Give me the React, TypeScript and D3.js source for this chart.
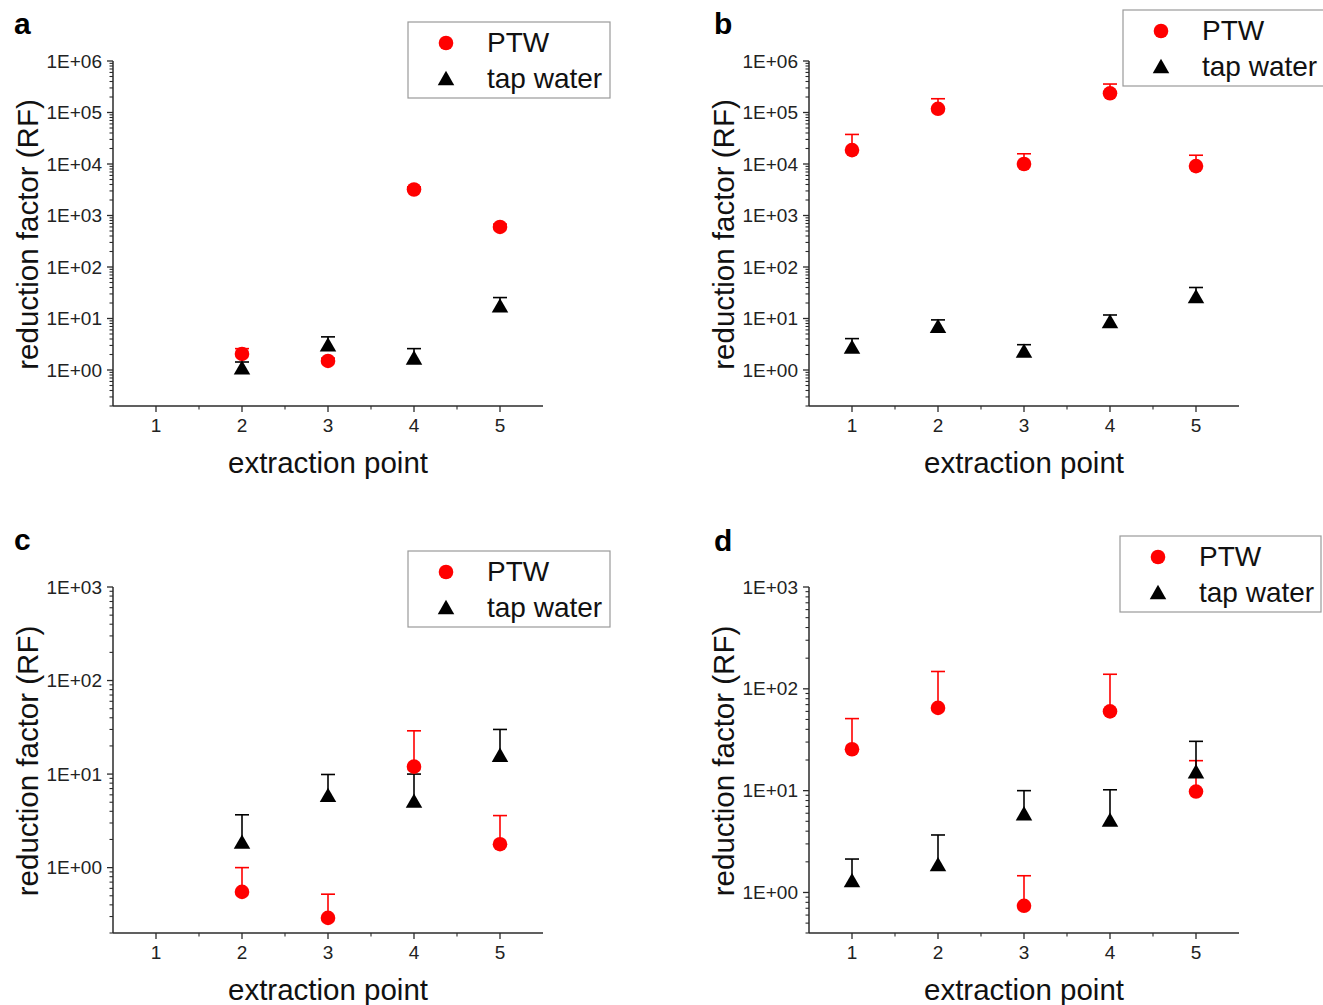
import React from "react";
import * as d3 from "d3";

// extraction points on the x axis
const extractionPoints = [1, 2, 3, 4, 5];
const xMinorTicks = [1.5, 2.5, 3.5, 4.5];
const seriesNames = ["PTW", "tap water"];

// y tick values (decades)
const yTicksWide = [1, 1e1, 1e2, 1e3, 1e4, 1e5, 1e6];
const yTicksNarrow = [1, 1e1, 1e2, 1e3];

// panel a (mean and upper error bar end)
const aPTW = [null, 2.05, 1.5, 3200, 600];
const aPTWUpper = [null, 2.6, 1.7, 3600, 680];
const aTap = [null, 1.12, 3.15, 1.75, 18];
const aTapUpper = [null, 1.43, 4.4, 2.6, 25.5];

// panel b
const bPTW = [18600, 118000, 10000, 236000, 9100];
const bPTWUpper = [37500, 185000, 15800, 357000, 14800];
const bTap = [2.85, 7.2, 2.38, 8.9, 27.3];
const bTapUpper = [4.07, 9.4, 3.1, 11.7, 40];

// panel c
const cPTW = [null, 0.55, 0.29, 12, 1.78];
const cPTWUpper = [null, 1.0, 0.52, 29, 3.6];
const cTap = [null, 1.9, 6.0, 5.2, 16.1];
const cTapUpper = [null, 3.67, 9.9, 10, 30];

// panel d
const dPTW = [25.5, 65, 0.74, 60, 9.8];
const dPTWUpper = [51, 148, 1.46, 139, 19.7];
const dTap = [1.32, 1.9, 6.0, 5.2, 15.5];
const dTapUpper = [2.13, 3.67, 10, 10.2, 30.5];

const FONT = "'Liberation Sans', Arial, Helvetica, sans-serif";
const RED = "#ff0000";
const BLACK = "#000000";
const AXIS = "#2b2b2b";

const panels = [
  {
    letter: "a", left: 113, right: 543, top: 61, bottom: 406, yDomain: [0.2, 1e6], yTicks: yTicksWide,
    ptw: aPTW, ptwUp: aPTWUpper, tap: aTap, tapUp: aTapUpper,
    legend: { x: 408, y: 22, w: 202, h: 76 }, letterPos: [14, 34],
  },
  {
    letter: "b", left: 809, right: 1239, top: 61, bottom: 406, yDomain: [0.2, 1e6], yTicks: yTicksWide,
    ptw: bPTW, ptwUp: bPTWUpper, tap: bTap, tapUp: bTapUpper,
    legend: { x: 1123, y: 10, w: 210, h: 76 }, letterPos: [714, 34],
  },
  {
    letter: "c", left: 113, right: 543, top: 587, bottom: 933, yDomain: [0.2, 1e3], yTicks: yTicksNarrow,
    ptw: cPTW, ptwUp: cPTWUpper, tap: cTap, tapUp: cTapUpper,
    legend: { x: 408, y: 551, w: 202, h: 76 }, letterPos: [14, 550],
  },
  {
    letter: "d", left: 809, right: 1239, top: 587, bottom: 933, yDomain: [0.4, 1e3], yTicks: yTicksNarrow,
    ptw: dPTW, ptwUp: dPTWUpper, tap: dTap, tapUp: dTapUpper,
    legend: { x: 1120, y: 536, w: 201, h: 76 }, letterPos: [714, 551],
  },
];

const triSize = 118; // area -> side ~16.5px
const triOffset = Math.sqrt(triSize / (Math.sqrt(3) * 3)) / 2;
const trianglePath = d3.symbol(d3.symbolTriangle, triSize)();
const fmtExp = (v) => {
  const e = Math.round(Math.log10(v));
  return `1E+${String(e).padStart(2, "0")}`;
};

function Panel({ p }) {
  const x = d3.scaleLinear().domain([0.5, 5.5]).range([p.left, p.right]);
  const y = d3.scaleLog().domain(p.yDomain).range([p.bottom, p.top]);
  const minor = y.ticks().filter((t) => !p.yTicks.some((d) => Math.abs(d - t) / d < 1e-6));

  const errBars = (vals, ups, color) =>
    extractionPoints.map((pt, i) =>
      vals[i] == null ? null : (
        <g key={`e${color}${i}`} stroke={color} strokeWidth={1.6}>
          <line x1={x(pt)} x2={x(pt)} y1={y(vals[i])} y2={y(ups[i])} />
          <line x1={x(pt) - 7} x2={x(pt) + 7} y1={y(ups[i])} y2={y(ups[i])} />
        </g>
      )
    );

  const midX = (p.left + p.right) / 2;
  const midY = (p.top + p.bottom) / 2 + 1;
  const lg = p.legend;

  return (
    <g>
      <text x={p.letterPos[0]} y={p.letterPos[1]} fontSize={30} fontWeight="bold" fontFamily={FONT}>
        {p.letter}
      </text>

      {/* axes */}
      <line x1={p.left} x2={p.left} y1={p.top} y2={p.bottom} stroke={AXIS} strokeWidth={1.5} />
      <line x1={p.left} x2={p.right} y1={p.bottom} y2={p.bottom} stroke={AXIS} strokeWidth={1.5} />

      {p.yTicks.map((t) => (
        <g key={`yt${t}`}>
          <line x1={p.left - 6} x2={p.left} y1={y(t)} y2={y(t)} stroke={AXIS} strokeWidth={1.3} />
          <text x={p.left - 11} y={y(t)} dy="0.35em" textAnchor="end" fontSize={19} fontFamily={FONT} fill="#222">
            {fmtExp(t)}
          </text>
        </g>
      ))}
      {minor.map((t) => (
        <line key={`ym${t}`} x1={p.left - 3.5} x2={p.left} y1={y(t)} y2={y(t)} stroke={AXIS} strokeWidth={1.1} />
      ))}

      {extractionPoints.map((t) => (
        <g key={`xt${t}`}>
          <line x1={x(t)} x2={x(t)} y1={p.bottom} y2={p.bottom + 6} stroke={AXIS} strokeWidth={1.3} />
          <text x={x(t)} y={p.bottom + 26} textAnchor="middle" fontSize={19} fontFamily={FONT} fill="#222">
            {t}
          </text>
        </g>
      ))}
      {xMinorTicks.map((t) => (
        <line key={`xm${t}`} x1={x(t)} x2={x(t)} y1={p.bottom} y2={p.bottom + 3.5} stroke={AXIS} strokeWidth={1.1} />
      ))}

      <text x={midX} y={p.bottom + 67} textAnchor="middle" fontSize={29.5} fontFamily={FONT} fill="#111">
        extraction point
      </text>
      <text
        transform={`translate(${p.left - 75},${midY}) rotate(-90)`}
        textAnchor="middle"
        fontSize={29.5}
        fontFamily={FONT}
        fill="#111"
      >
        reduction factor (RF)
      </text>

      {/* error bars */}
      {errBars(p.ptw, p.ptwUp, RED)}
      {errBars(p.tap, p.tapUp, BLACK)}

      {/* markers */}
      {extractionPoints.map((pt, i) =>
        p.ptw[i] == null ? null : <circle key={`c${i}`} cx={x(pt)} cy={y(p.ptw[i])} r={7.3} fill={RED} />
      )}
      {extractionPoints.map((pt, i) =>
        p.tap[i] == null ? null : (
          <path key={`t${i}`} d={trianglePath} transform={`translate(${x(pt)},${y(p.tap[i]) + triOffset})`} fill={BLACK} />
        )
      )}

      {/* legend */}
      <rect x={lg.x} y={lg.y} width={lg.w} height={lg.h} fill="white" stroke="#9a9a9a" strokeWidth={1.2} />
      <circle cx={lg.x + 38} cy={lg.y + 21} r={7.3} fill={RED} />
      <path d={trianglePath} transform={`translate(${lg.x + 38},${lg.y + 56 + triOffset})`} fill={BLACK} />
      <text x={lg.x + 79} y={lg.y + 30} fontSize={28} fontFamily={FONT} fill="#111">
        {seriesNames[0]}
      </text>
      <text x={lg.x + 79} y={lg.y + 66} fontSize={28} fontFamily={FONT} fill="#111">
        {seriesNames[1]}
      </text>
    </g>
  );
}

export default function App() {
  return (
    <svg
      width={1323}
      height={1005}
      style={{ position: "absolute", left: 0, top: 0, background: "white" }}
    >
      <rect width={1323} height={1005} fill="white" />
      {panels.map((p) => (
        <Panel key={p.letter} p={p} />
      ))}
    </svg>
  );
}
